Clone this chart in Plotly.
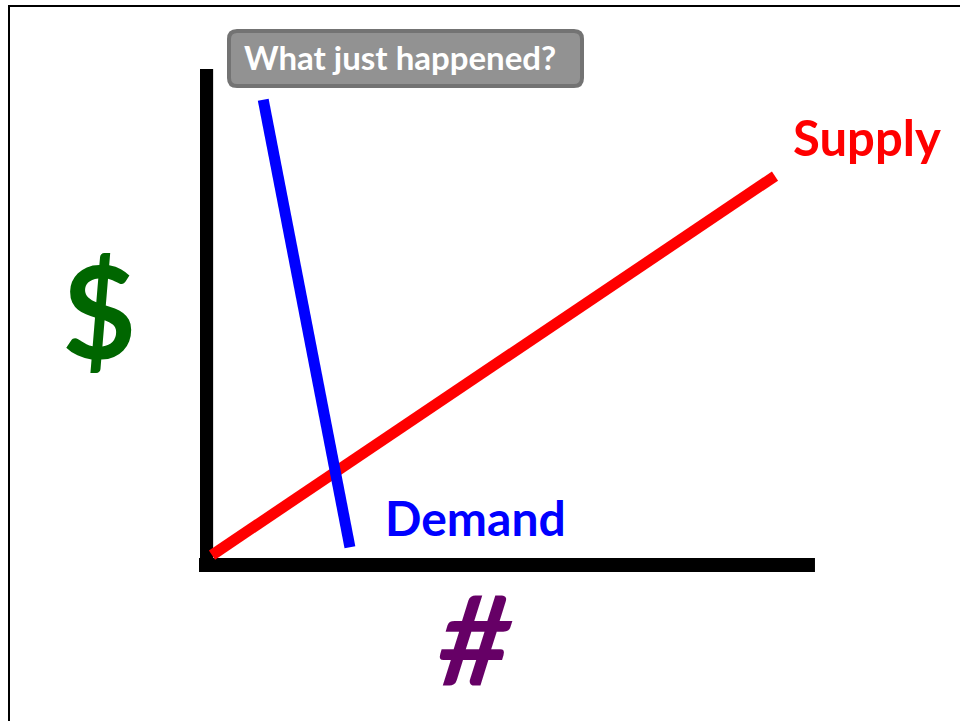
import plotly.graph_objects as go

# ---- data (economic units) ----
supply_quantity = [0.0, 10.0]
supply_price = [0.06, 7.81]
demand_quantity = [0.91, 2.45]
demand_price = [9.37, 0.22]

axis_x_max = 10.71   # end of quantity axis
axis_y_max = 10.0    # top of price axis

labels = {"supply": "Supply", "demand": "Demand", "price": "$", "quantity": "#",
          "button": "What just happened?"}

# ---- scale helpers (figure pixel -> data) ----
PX_X, PX_Y = 56.3, 48.9
OX, OY = 212, 558
def dx(p): return (p - OX) / PX_X
def dy(p): return (OY - p) / PX_Y

fig = go.Figure()
fig.add_trace(go.Scatter(x=supply_quantity, y=supply_price, mode="lines",
                         line=dict(color="#ff0000", width=11), hoverinfo="skip"))
fig.add_trace(go.Scatter(x=demand_quantity, y=demand_price, mode="lines",
                         line=dict(color="#0000ff", width=11), hoverinfo="skip"))

shapes = []
# axes bars
shapes.append(dict(type="rect", xref="x", yref="y", x0=dx(200), x1=0.02, y0=dy(572), y1=axis_y_max,
                   fillcolor="black", line=dict(width=0), layer="below"))
shapes.append(dict(type="rect", xref="x", yref="y", x0=dx(199), x1=axis_x_max, y0=dy(572), y1=0,
                   fillcolor="black", line=dict(width=0), layer="below"))
# outer frame (left and top edges visible)
shapes.append(dict(type="line", xref="paper", yref="paper", x0=9/960, x1=9/960, y0=0, y1=1-5/721,
                   line=dict(color="black", width=2)))
shapes.append(dict(type="line", xref="paper", yref="paper", x0=8/960, x1=1, y0=1-6/721, y1=1-6/721,
                   line=dict(color="black", width=2)))
# rounded button
x0, x1, y0, y1 = dx(229), dx(582), dy(86), dy(31)
rx, ry = 8/PX_X, 8/PX_Y
path = (f"M {x0+rx},{y1} L {x1-rx},{y1} Q {x1},{y1} {x1},{y1-ry} L {x1},{y0+ry} "
        f"Q {x1},{y0} {x1-rx},{y0} L {x0+rx},{y0} Q {x0},{y0} {x0},{y0+ry} "
        f"L {x0},{y1-ry} Q {x0},{y1} {x0+rx},{y1} Z")
shapes.append(dict(type="path", xref="x", yref="y", path=path, fillcolor="#929292",
                   line=dict(color="#737373", width=4)))

F = "Lato, 'Open Sans', sans-serif"
ann = [
    dict(x=dx(791), y=dy(137), text=f"<b>{labels['supply']}</b>", xanchor="left", yanchor="middle",
         font=dict(family=F, size=49, color="#ff0000")),
    dict(x=dx(383), y=dy(517), text=f"<b>{labels['demand']}</b>", xanchor="left", yanchor="middle",
         font=dict(family=F, size=48, color="#0000ff")),
    dict(x=dx(99), y=dy(309), text=f"<b>{labels['price']}</b>", xanchor="center", yanchor="middle",
         font=dict(family=F, size=128, color="#006600")),
    dict(x=dx(474), y=dy(638), text=f"<b><i>&#8201;{labels['quantity']}&#8201;</i></b>",
         xanchor="center", yanchor="middle",
         font=dict(family=F, size=125, color="#660066")),
    dict(x=dx(242), y=dy(57), text=f"<b>{labels['button']}</b>", xanchor="left", yanchor="middle",
         font=dict(family=F, size=33, color="white")),
]
for a in ann:
    a.update(xref="x", yref="y", showarrow=False)

fig.update_layout(
    width=960, height=721, margin=dict(l=0, r=0, t=0, b=0),
    paper_bgcolor="white", plot_bgcolor="white", showlegend=False,
    xaxis=dict(range=[dx(0), dx(960)], visible=False, fixedrange=True),
    yaxis=dict(range=[dy(721), dy(0)], visible=False, fixedrange=True),
    shapes=shapes, annotations=ann,
)
fig.write_html("out.html", config={"displayModeBar": False},
               post_script="document.body.style.margin='0';document.body.style.overflow='hidden';")
